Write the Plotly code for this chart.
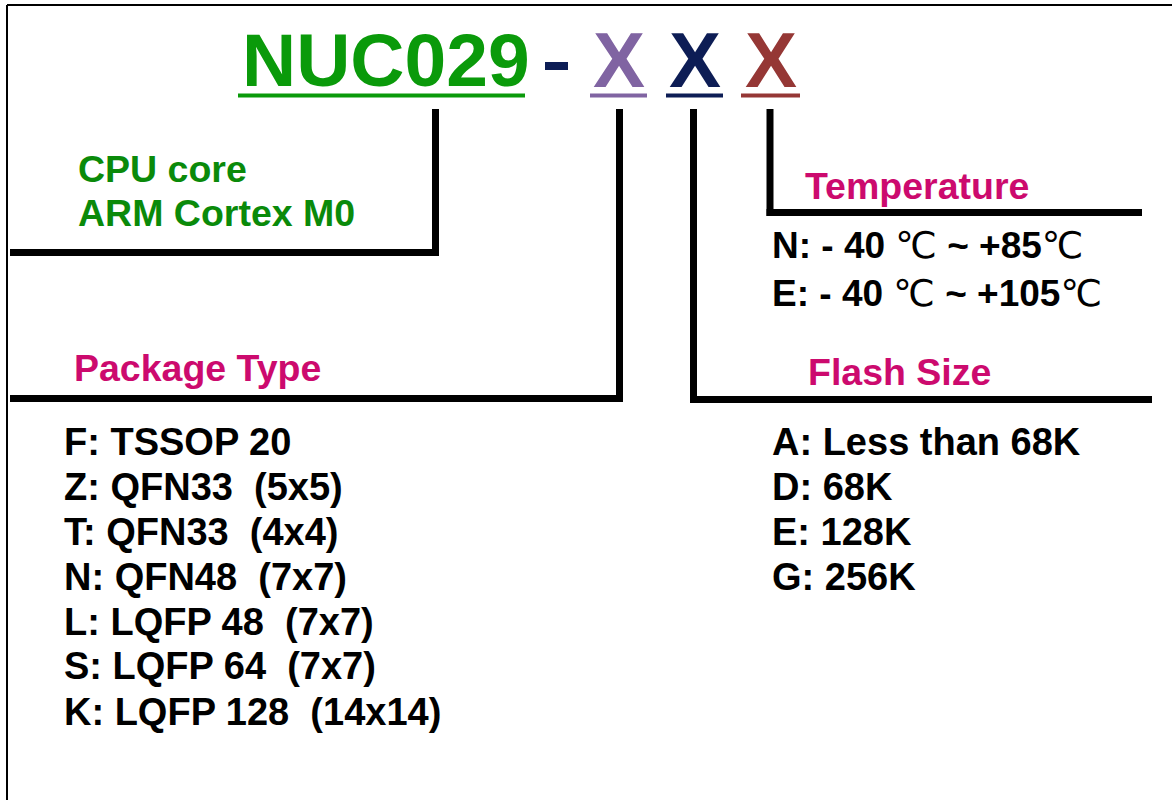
import plotly.graph_objects as go

W, H = 1172, 800

# ---- content ----
title_part = "NUC029"
suffix_letters = ["X", "X", "X"]
suffix_colors = ["#8064A2", "#0D1D55", "#953735"]

cpu_lines = ["CPU core", "ARM Cortex M0"]
package_title = "Package Type"
package_items = ["F: TSSOP 20", "Z: QFN33  (5x5)", "T: QFN33  (4x4)", "N: QFN48  (7x7)",
                 "L: LQFP 48  (7x7)", "S: LQFP 64  (7x7)", "K: LQFP 128  (14x14)"]
temp_title = "Temperature"
temp_items = [("N: - 40 ", "℃", " ~ +85", "℃"), ("E: - 40 ", "℃", " ~ +105", "℃")]
flash_title = "Flash Size"
flash_items = ["A: Less than 68K", "D: 68K", "E: 128K", "G: 256K"]

GREEN_T = "#0A9A0A"
GREEN = "#0A8A0A"
MAGENTA = "#CC0A6E"
BLACK = "#000000"
FONT = "Liberation Sans, Arial, sans-serif"

fig = go.Figure()
shapes = []
ann = []

def line(x0, y0, x1, y1, w=7, c=BLACK):
    shapes.append(dict(type="line", x0=x0, y0=y0, x1=x1, y1=y1, xref="x", yref="y",
                       line=dict(color=c, width=w), layer="above"))

def text(x, y, t, size, color=BLACK, xanchor="left"):
    ann.append(dict(x=x, y=y, xref="x", yref="y", text=t, showarrow=False,
                    xanchor=xanchor, yanchor="middle", align="left",
                    font=dict(family=FONT, size=size, color=color)))

# frame
line(7, 5, W, 5, w=2)
line(7, 5, 7, H, w=2)

# title
text(386, 60, "<b>%s</b>" % title_part, 75, GREEN_T, xanchor="center")
line(238, 95.5, 525, 95.5, w=4, c=GREEN_T)
line(545, 66, 568, 66, w=8, c="#0D1D55")
xc = [618.5, 694.5, 770.5]
ux = [(590, 647), (666, 723), (741, 800)]
for i, L in enumerate(suffix_letters):
    text(xc[i], 60, "<b>%s</b>" % L, 78, suffix_colors[i], xanchor="center")
    line(ux[i][0], 95.5, ux[i][1], 95.5, w=4, c=suffix_colors[i])

# connectors
line(435.5, 109, 435.5, 256)
line(10, 252.5, 439, 252.5)
line(619.5, 109, 619.5, 402)
line(10, 398.5, 623, 398.5)
line(693.5, 109, 693.5, 403)
line(690, 399.5, 1152, 399.5)
line(770, 109, 770, 216)
line(766.5, 212.5, 1142, 212.5)

HS = 37.5   # heading size
BS = 38     # body size

# left texts
cpu_y = [169, 213]
for t, y in zip(cpu_lines, cpu_y):
    text(76, y, "<b>%s</b>" % t, HS, GREEN)
text(72, 368, "<b>%s</b>" % package_title, HS, MAGENTA)
pk_y = [442, 487, 532, 577, 622, 666, 712]
for t, y in zip(package_items, pk_y):
    text(62, y, "<b>%s</b>" % t, BS, BLACK)

# right texts
text(803, 186, "<b>%s</b>" % temp_title, HS, MAGENTA)
DEG = "font-family:'DejaVu Sans';font-weight:normal"
temp_y = [245, 293]
for (a, deg1, b, deg2), y in zip(temp_items, temp_y):
    t = "<b>%s</b><span style=\"%s\">%s</span><b>%s</b><span style=\"%s\">%s</span>" % (
        a, DEG, deg1, b, DEG, deg2)
    text(770, y, t, 37, BLACK)
text(806, 372, "<b>%s</b>" % flash_title, HS, MAGENTA)
fl_y = [442, 487, 532, 577]
for t, y in zip(flash_items, fl_y):
    text(770, y, "<b>%s</b>" % t, BS, BLACK)

fig.update_layout(
    width=W, height=H, margin=dict(l=0, r=0, t=0, b=0),
    paper_bgcolor="white", plot_bgcolor="white",
    xaxis=dict(range=[0, W], visible=False, fixedrange=True),
    yaxis=dict(range=[H, 0], visible=False, fixedrange=True),
    shapes=shapes, annotations=ann, showlegend=False,
)

fig.write_html("out.html", config={"displayModeBar": False},
               post_script="document.body.style.margin='0';document.body.style.overflow='hidden';")
